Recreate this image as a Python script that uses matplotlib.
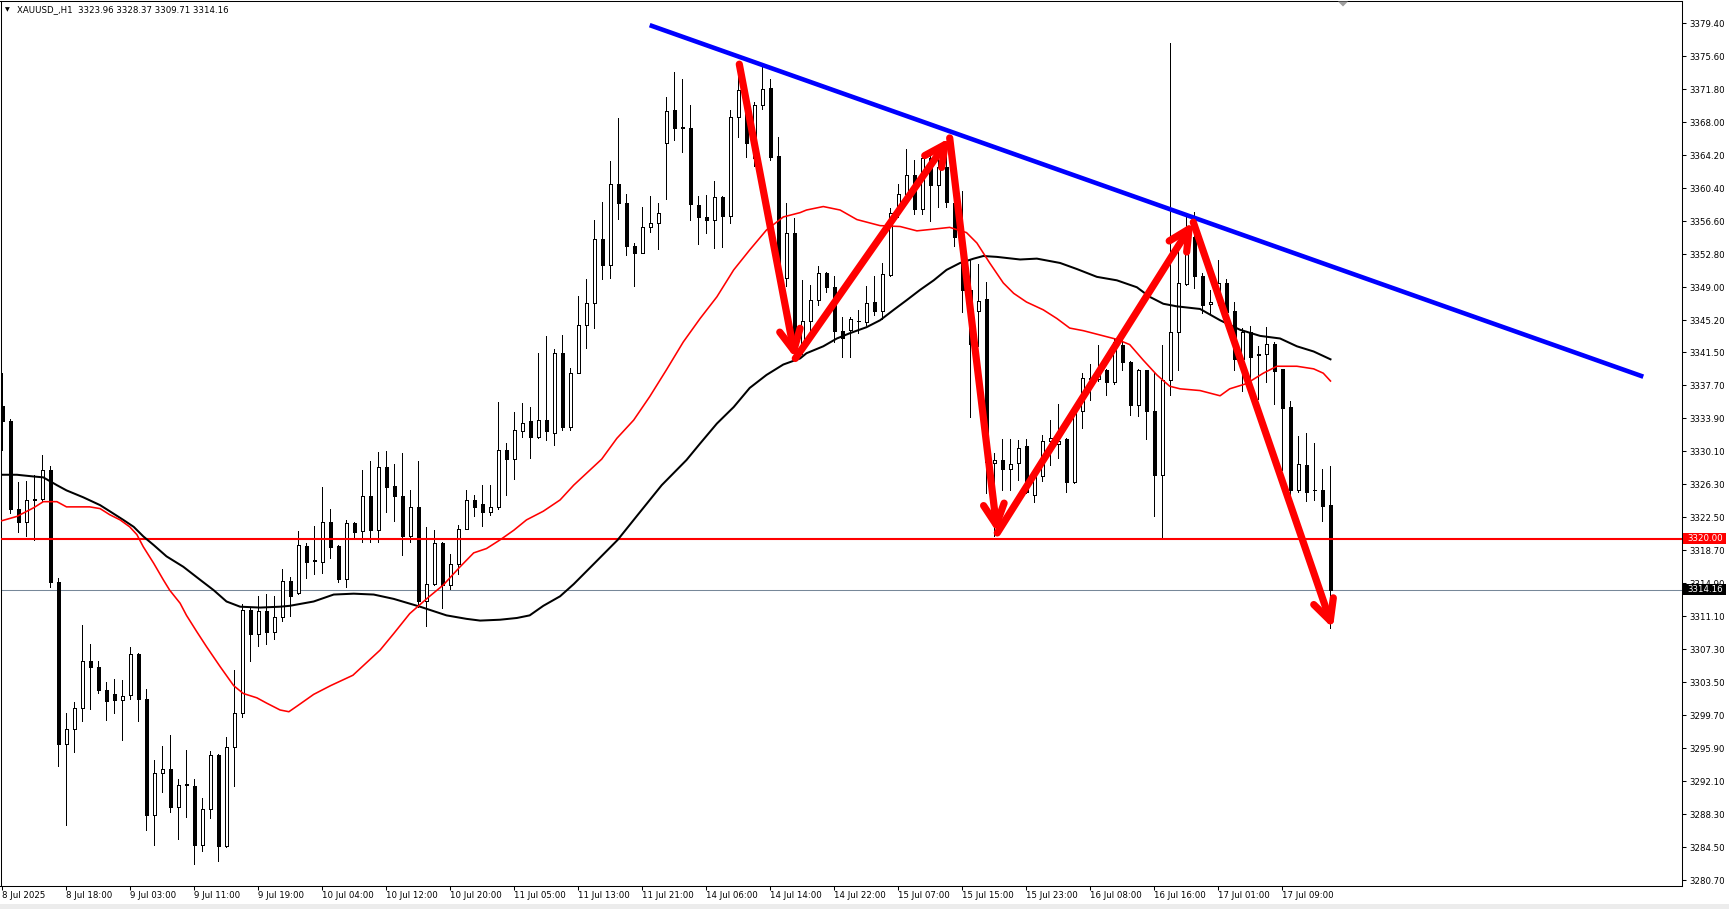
"""
XAUUSD H1 candlestick chart in MT4 style, with two moving averages,
a falling trendline and zigzag arrows.
"""

import numpy as np
import matplotlib
matplotlib.use('Agg')
import matplotlib.pyplot as plt
from matplotlib.patches import Rectangle, Polygon
from matplotlib.transforms import blended_transform_factory

plt.rcParams['font.family'] = 'DejaVu Sans'
plt.rcParams['font.size'] = 6.2
plt.rcParams['axes.linewidth'] = 0.72
plt.rcParams['xtick.color'] = '#000000'
plt.rcParams['ytick.color'] = '#000000'

W, H, DPI = 1729, 909, 100

# ---------------- data ----------------
symbol_header = 'XAUUSD_,H1  3323.96 3328.37 3309.71 3314.16'

opens = [
    3335.3, 3333.6, 3323.5, 3321.9, 3324.5, 3324.6, 3328.0, 3315.0, 3296.4, 3298.1,
    3300.5, 3306.0, 3305.2, 3302.6, 3302.1, 3301.4, 3302.0, 3306.7, 3301.6, 3288.2,
    3293.0, 3293.5, 3289.1, 3291.7, 3291.6, 3284.8, 3288.9, 3295.1, 3284.6, 3296.0,
    3299.9, 3311.8, 3309.1, 3311.7, 3309.3, 3311.0, 3315.2, 3313.8, 3319.2, 3317.5,
    3317.3, 3322.0, 3319.2, 3315.4, 3321.8, 3320.9, 3324.9, 3321.0, 3328.3, 3326.1,
    3325.0, 3320.3, 3323.7, 3312.8, 3314.8, 3319.5, 3314.7, 3317.1, 3321.2, 3324.5,
    3324.0, 3323.1, 3323.7, 3330.3, 3329.2, 3332.4, 3333.6, 3331.7, 3333.7, 3332.2,
    3341.4, 3332.9, 3339.1, 3344.7, 3347.2, 3354.6, 3351.6, 3360.9, 3358.7, 3353.8,
    3353.0, 3355.9, 3356.4, 3365.6, 3369.4, 3367.4, 3367.4, 3358.5, 3357.1, 3356.8,
    3359.4, 3357.2, 3368.6, 3370.0, 3363.9, 3370.0, 3372.0, 3364.1, 3350.1, 3355.2,
    3342.2, 3345.1, 3347.5, 3350.7, 3349.0, 3344.0, 3344.1, 3345.1, 3345.0, 3347.3,
    3346.3, 3350.4, 3357.6, 3359.7, 3361.9, 3358.0, 3363.9, 3360.8, 3362.9, 3358.7,
    3354.8, 3348.7, 3346.3, 3347.6, 3328.8, 3329.1, 3328.1, 3328.7, 3330.7, 3325.1,
    3327.2, 3331.3, 3330.9, 3331.5, 3326.6, 3334.7, 3338.5, 3338.4, 3339.5, 3338.1,
    3342.3, 3340.4, 3335.4, 3339.5, 3334.7, 3327.4, 3338.3, 3343.8, 3349.4, 3354.8,
    3350.3, 3347.1, 3348.3, 3349.5, 3346.3, 3340.7, 3343.8, 3341.2, 3341.3, 3342.5,
    3339.6, 3335.2, 3325.7, 3328.5, 3325.6, 3325.6, 3323.96,
]
highs = [
    3339.1, 3333.8, 3326.6, 3326.7, 3327.4, 3329.7, 3328.4, 3315.5, 3299.9, 3301.2,
    3310.1, 3307.9, 3305.9, 3303.5, 3303.9, 3303.8, 3307.6, 3306.9, 3302.7, 3294.5,
    3296.2, 3297.4, 3292.4, 3295.7, 3292.4, 3290.2, 3295.6, 3295.2, 3297.2, 3304.9,
    3312.5, 3312.2, 3313.4, 3313.7, 3313.4, 3316.6, 3315.6, 3320.9, 3319.5, 3321.5,
    3326.0, 3323.5, 3319.3, 3322.2, 3321.9, 3328.0, 3329.0, 3330.0, 3330.1, 3328.6,
    3329.9, 3325.7, 3329.0, 3321.4, 3321.0, 3319.7, 3318.3, 3321.6, 3325.6, 3325.1,
    3326.2, 3326.2, 3335.8, 3331.1, 3334.6, 3335.7, 3335.2, 3341.4, 3343.4, 3341.9,
    3343.5, 3339.7, 3348.0, 3350.0, 3356.8, 3358.8, 3363.5, 3368.5, 3359.7, 3354.1,
    3358.3, 3359.5, 3358.7, 3370.9, 3373.8, 3373.0, 3370.0, 3359.5, 3359.6, 3361.2,
    3359.5, 3369.4, 3374.7, 3372.0, 3370.3, 3374.4, 3373.0, 3366.3, 3358.7, 3357.0,
    3349.8, 3349.3, 3351.4, 3350.8, 3350.3, 3345.6, 3345.6, 3346.4, 3349.1, 3350.3,
    3351.8, 3358.1, 3360.9, 3364.9, 3363.7, 3364.4, 3364.6, 3363.9, 3365.5, 3359.2,
    3360.1, 3352.1, 3351.7, 3349.6, 3329.9, 3331.5, 3331.5, 3331.4, 3331.5, 3327.8,
    3332.0, 3333.7, 3335.6, 3331.6, 3334.8, 3339.1, 3340.2, 3342.4, 3339.6, 3343.1,
    3343.3, 3340.5, 3339.6, 3339.5, 3339.1, 3342.4, 3377.1, 3353.7, 3357.1, 3357.7,
    3350.6, 3348.7, 3352.1, 3350.0, 3347.3, 3344.3, 3344.5, 3342.2, 3344.4, 3342.7,
    3339.6, 3335.9, 3331.9, 3332.2, 3331.1, 3328.1, 3328.37,
]
lows = [
    3330.2, 3323.0, 3320.8, 3320.4, 3319.9, 3324.4, 3314.5, 3293.8, 3287.0, 3295.5,
    3299.0, 3300.4, 3302.2, 3299.1, 3300.0, 3296.8, 3301.6, 3299.0, 3286.5, 3284.7,
    3290.8, 3288.6, 3285.4, 3288.0, 3282.6, 3284.0, 3287.8, 3282.9, 3284.5, 3291.6,
    3299.5, 3306.0, 3307.7, 3307.9, 3308.5, 3310.6, 3311.1, 3313.7, 3315.5, 3316.0,
    3316.1, 3317.8, 3315.1, 3314.5, 3320.2, 3319.7, 3319.7, 3319.7, 3323.1, 3322.1,
    3318.1, 3319.6, 3312.2, 3310.0, 3314.7, 3312.0, 3314.2, 3316.0, 3321.1, 3322.7,
    3321.5, 3322.8, 3323.4, 3325.1, 3326.9, 3331.8, 3329.3, 3331.6, 3331.4, 3330.8,
    3332.6, 3332.6, 3339.1, 3342.0, 3344.3, 3349.9, 3350.1, 3356.9, 3352.7, 3349.1,
    3352.9, 3355.4, 3353.4, 3359.2, 3366.0, 3364.6, 3356.8, 3354.0, 3355.2, 3353.5,
    3353.6, 3356.4, 3366.3, 3364.0, 3363.0, 3369.5, 3363.7, 3349.3, 3349.1, 3341.5,
    3341.3, 3343.7, 3347.0, 3348.5, 3342.7, 3341.0, 3341.0, 3343.7, 3344.7, 3345.8,
    3345.3, 3350.3, 3357.1, 3359.4, 3357.4, 3357.4, 3356.6, 3358.3, 3358.2, 3353.8,
    3346.2, 3334.1, 3342.2, 3325.3, 3320.3, 3325.6, 3325.6, 3326.8, 3325.3, 3324.3,
    3326.7, 3328.5, 3329.3, 3325.4, 3326.4, 3332.8, 3336.0, 3338.2, 3336.6, 3337.9,
    3339.5, 3334.3, 3334.2, 3331.5, 3322.6, 3320.1, 3336.6, 3339.5, 3349.3, 3348.9,
    3346.0, 3346.0, 3347.0, 3345.5, 3339.5, 3337.0, 3337.4, 3336.1, 3338.1, 3335.6,
    3328.0, 3325.1, 3325.4, 3324.4, 3324.5, 3322.1, 3309.71,
]
closes = [
    3333.6, 3323.5, 3321.9, 3324.5, 3324.6, 3328.0, 3315.0, 3296.4, 3298.1, 3300.5,
    3306.0, 3305.2, 3302.6, 3301.3, 3301.4, 3301.9, 3306.7, 3301.6, 3288.2, 3293.0,
    3293.5, 3289.1, 3291.7, 3291.7, 3284.8, 3288.9, 3295.1, 3284.6, 3296.0, 3299.9,
    3311.8, 3309.1, 3311.7, 3309.3, 3311.0, 3315.2, 3313.4, 3319.3, 3317.3, 3317.5,
    3322.0, 3319.1, 3315.4, 3321.8, 3320.8, 3324.9, 3321.0, 3328.3, 3326.0, 3324.9,
    3320.3, 3323.7, 3312.8, 3314.8, 3319.5, 3314.7, 3317.1, 3321.2, 3324.5, 3323.7,
    3323.1, 3323.7, 3330.3, 3329.2, 3332.6, 3333.4, 3331.8, 3333.7, 3332.4, 3341.4,
    3332.9, 3339.1, 3344.7, 3347.2, 3354.6, 3351.6, 3360.9, 3358.7, 3353.8, 3353.0,
    3355.9, 3356.4, 3357.5, 3369.3, 3367.4, 3367.4, 3358.6, 3357.1, 3356.8, 3359.4,
    3357.2, 3368.6, 3371.7, 3365.6, 3370.0, 3371.8, 3364.0, 3350.0, 3355.3, 3343.5,
    3345.1, 3347.5, 3350.7, 3349.0, 3344.0, 3343.2, 3345.4, 3345.1, 3347.2, 3346.3,
    3350.5, 3357.6, 3359.7, 3361.9, 3358.0, 3363.9, 3360.8, 3362.9, 3358.8, 3354.8,
    3348.7, 3342.5, 3347.4, 3328.9, 3329.1, 3328.1, 3328.6, 3330.5, 3325.4, 3327.2,
    3331.3, 3331.6, 3331.3, 3326.6, 3334.7, 3338.5, 3338.4, 3339.5, 3338.1, 3342.7,
    3340.4, 3335.4, 3339.5, 3334.7, 3327.4, 3338.3, 3343.9, 3349.5, 3354.4, 3350.3,
    3347.0, 3347.3, 3349.5, 3346.2, 3340.7, 3343.8, 3341.0, 3341.2, 3342.5, 3339.4,
    3335.1, 3325.7, 3328.6, 3325.4, 3325.6, 3323.8, 3314.16,
]

# fast MA (red): bar position / price
red_ma_bar = [
    -0.1, 1.8, 3.9, 5.1, 6.8, 8.0, 9.3, 10.9, 12.2, 13.4,
    14.7, 15.9, 16.8, 17.6, 18.9, 20.1, 20.9, 22.2, 23.0, 24.3,
    25.5, 27.2, 28.9, 30.1, 31.8, 33.0, 34.7, 35.8, 36.9, 38.9,
    41.0, 43.8, 47.2, 48.9, 50.9, 53.0, 55.1, 57.2, 58.9, 60.5,
    62.2, 63.9, 65.5, 67.6, 69.7, 71.4, 74.9, 76.8, 78.9, 80.9,
    83.0, 85.1, 87.2, 89.3, 91.4, 93.4, 95.5, 97.6, 99.7, 100.5,
    102.6, 104.7, 106.8, 109.7, 112.2, 114.3, 116.4, 118.4, 120.5, 121.8,
    123.4, 125.1, 126.4, 128.0, 130.1, 131.8, 133.4, 135.1, 137.2, 139.3,
    140.9, 142.6, 144.3, 145.9, 147.2, 149.7, 152.2, 153.4, 155.5, 157.6,
    159.3, 161.8, 163.9, 165.1, 166.0,
]
red_ma_val = [
    3322.1, 3322.6, 3323.6, 3324.3, 3324.3, 3323.7, 3323.7, 3323.7, 3323.5, 3322.8,
    3322.2, 3321.4, 3320.5, 3319.1, 3317.2, 3315.3, 3314.1, 3312.6, 3311.2, 3309.3,
    3307.6, 3305.3, 3303.1, 3302.2, 3301.7, 3301.1, 3300.3, 3300.1, 3300.8, 3302.1,
    3303.1, 3304.3, 3307.2, 3309.1, 3311.4, 3313.1, 3314.7, 3316.8, 3318.4, 3318.9,
    3319.9, 3321.0, 3322.2, 3323.2, 3324.5, 3326.2, 3329.2, 3331.6, 3333.7, 3336.4,
    3339.5, 3342.7, 3345.4, 3347.9, 3351.0, 3353.3, 3355.6, 3357.1, 3357.6, 3357.9,
    3358.3, 3357.9, 3356.8, 3356.1, 3356.0, 3355.5, 3355.7, 3355.9, 3355.3, 3354.1,
    3351.8, 3349.5, 3348.3, 3347.3, 3346.4, 3345.4, 3344.3, 3344.0, 3343.5, 3343.0,
    3342.4, 3340.6, 3338.9, 3337.6, 3337.3, 3337.1, 3336.5, 3337.3, 3337.9, 3339.1,
    3339.9, 3339.9, 3339.6, 3339.1, 3338.2,
]

# slow MA (black)
black_ma_bar = [
    -0.1, 1.8, 3.9, 5.1, 6.8, 8.0, 10.1, 12.2, 13.4, 15.1,
    16.4, 17.6, 18.9, 20.5, 22.6, 24.7, 26.4, 28.0, 29.7, 32.2,
    34.7, 35.9, 38.9, 41.4, 43.9, 46.4, 48.9, 52.2, 55.5, 58.0,
    59.7, 62.2, 64.3, 65.9, 67.6, 69.7, 71.4, 74.1, 76.9, 79.6,
    82.4, 85.5, 87.2, 89.3, 91.4, 93.4, 95.5, 97.6, 99.7, 100.5,
    102.6, 104.3, 105.9, 108.0, 109.7, 111.4, 113.0, 114.7, 116.4, 118.0,
    119.7, 121.4, 122.6, 124.3, 127.2, 129.3, 132.2, 134.3, 136.8, 139.3,
    141.8, 143.4, 145.1, 146.8, 149.7, 152.2, 154.7, 157.2, 159.7, 161.8,
    163.9, 166.0,
]
black_ma_val = [
    3327.4, 3327.4, 3327.2, 3327.1, 3326.2, 3325.6, 3324.8, 3323.9, 3323.2, 3322.2,
    3321.4, 3320.3, 3319.3, 3318.0, 3316.8, 3315.3, 3314.1, 3312.8, 3312.2, 3312.1,
    3312.2, 3312.3, 3312.8, 3313.6, 3313.7, 3313.6, 3313.1, 3312.2, 3311.2, 3310.8,
    3310.6, 3310.7, 3310.9, 3311.2, 3312.3, 3313.4, 3314.8, 3317.3, 3319.9, 3323.0,
    3326.2, 3329.1, 3331.0, 3333.3, 3335.2, 3337.4, 3338.9, 3340.1, 3340.8, 3341.4,
    3342.2, 3343.1, 3343.7, 3344.4, 3345.2, 3346.4, 3347.5, 3348.7, 3349.8, 3351.0,
    3351.8, 3352.3, 3352.6, 3352.5, 3352.2, 3352.3, 3351.8, 3351.1, 3350.2, 3349.8,
    3349.0, 3347.9, 3347.1, 3346.8, 3346.5, 3345.2, 3344.1, 3343.4, 3343.1, 3342.2,
    3341.6, 3340.7,
]

# hand drawn objects
trend_bar = [80.9, 205.1]
trend_price = [3379.2, 3338.7]
zigzag_bar = [92.1, 99.1, 118.4, 124.35, 148.85, 166.3]
zigzag_price = [3374.7, 3340.8, 3366.2, 3320.7, 3356.5, 3309.7]
alert_level = 3320.00

# axis ticks
xtick_bars = list(range(0, 161, 8))
xtick_labels = ['8 Jul 2025', '8 Jul 18:00', '9 Jul 03:00', '9 Jul 11:00', '9 Jul 19:00',
                '10 Jul 04:00', '10 Jul 12:00', '10 Jul 20:00', '11 Jul 05:00', '11 Jul 13:00',
                '11 Jul 21:00', '14 Jul 06:00', '14 Jul 14:00', '14 Jul 22:00', '15 Jul 07:00',
                '15 Jul 15:00', '15 Jul 23:00', '16 Jul 08:00', '16 Jul 16:00', '17 Jul 01:00',
                '17 Jul 09:00']
ytick_values = [3379.40, 3375.60, 3371.80, 3368.00, 3364.20, 3360.40, 3356.60, 3352.80,
                3349.00, 3345.20, 3341.50, 3337.70, 3333.90, 3330.10, 3326.30, 3322.50,
                3318.70, 3314.90, 3311.10, 3307.30, 3303.50, 3299.70, 3295.90, 3292.10,
                3288.30, 3284.50, 3280.70]
ytick_labels = ['%.2f' % v for v in ytick_values]

# view window (bars / price)
x_range = (-0.25, 209.94)
y_range = (3280.08, 3381.98)


def px(x, y):
    """Pixel position (from top-left) to figure fraction."""
    return x / W, 1 - y / H


def draw_candles(ax):
    o = np.array(opens)
    h = np.array(highs)
    l = np.array(lows)
    c = np.array(closes)
    idx = np.arange(len(o))
    assert len(o) == len(h) == len(l) == len(c)

    ax.vlines(idx, l, h, color='black', linewidth=0.68, zorder=2, antialiased=False)

    up = c >= o
    lo = np.minimum(o, c)
    hgt = np.maximum(np.abs(c - o), 0.06)
    ax.bar(idx[up], hgt[up], bottom=lo[up], width=0.48, color='white',
           edgecolor='black', linewidth=0.68, zorder=3, antialiased=False)
    ax.bar(idx[~up], hgt[~up], bottom=lo[~up], width=0.48, color='black',
           edgecolor='black', linewidth=0.68, zorder=3, antialiased=False)


def draw_chart():
    fig = plt.figure(figsize=(W / DPI, H / DPI), dpi=DPI, facecolor='white')
    left, top = px(0.5, 1)
    right, bottom = px(1682, 885.5)
    ax = fig.add_axes([left, bottom, right - left, top - bottom])
    ax.set_facecolor('white')
    ax.set_xlim(*x_range)
    ax.set_ylim(*y_range)

    for sp in ax.spines.values():
        sp.set_color('black')
        sp.set_linewidth(0.75)

    # horizontal levels
    ax.axhline(closes[-1], color='#778899', linewidth=0.75, zorder=1)

    draw_candles(ax)

    ax.axhline(alert_level, color='#ff0000', linewidth=1.5, zorder=4)

    # moving averages
    ax.plot(black_ma_bar, black_ma_val, color='black', linewidth=1.45, zorder=4)
    ax.plot(red_ma_bar, red_ma_val, color='#ff0000', linewidth=1.15, zorder=4)

    # trendline
    ax.plot(trend_bar, trend_price, color='#0000ff', linewidth=3.3,
            solid_capstyle='butt', zorder=5)

    # zigzag arrows
    for i in range(len(zigzag_bar) - 1):
        ax.annotate('', xy=(zigzag_bar[i + 1], zigzag_price[i + 1]),
                    xytext=(zigzag_bar[i], zigzag_price[i]),
                    arrowprops=dict(arrowstyle='->,head_length=2.4,head_width=1.2',
                                    color='#ff0000', lw=5.2, shrinkA=0, shrinkB=0),
                    zorder=6)

    # y axis on the right
    ax.yaxis.tick_right()
    ax.set_yticks(ytick_values)
    ax.set_yticklabels(ytick_labels)
    ax.tick_params(axis='y', direction='out', length=3, width=0.75, pad=2.5,
                   labelsize=6.2)

    # x axis
    ax.set_xticks(xtick_bars)
    ax.set_xticklabels(xtick_labels, ha='left')
    ax.tick_params(axis='x', direction='out', length=3, width=0.75, pad=1.0,
                   labelsize=6.2)

    # price boxes on the axis
    trans = blended_transform_factory(fig.transFigure, ax.transData)
    box_h = 11 / ((885.5 - 1) / (y_range[1] - y_range[0]))
    for level, text, colour in [(alert_level, '%.2f' % alert_level, '#ff0000'),
                                (closes[-1], '%.2f' % closes[-1], '#000000')]:
        ax.add_patch(Rectangle((1683 / W, level - box_h / 2), 43 / W, box_h,
                               transform=trans, facecolor=colour, edgecolor='none',
                               clip_on=False, zorder=10))
        ax.text(1705 / W, level, text, transform=trans, ha='center', va='center',
                color='white', fontsize=6.2, clip_on=False, zorder=11)

    # header
    fig.text(*px(5, 9.5), '\u25bc', fontsize=4.5, va='center', ha='left', color='black')
    fig.text(*px(17, 9.5), symbol_header, fontsize=6.2, va='center', ha='left',
             color='black')

    # chart shift marker
    fig.patches.append(Polygon([px(1338, 1.5), px(1348, 1.5), px(1343, 6.5)],
                               closed=True, transform=fig.transFigure,
                               facecolor='#a0a0a0', edgecolor='none'))

    # bottom strip of the window
    x0, y0 = px(0, 909)
    fig.patches.append(Rectangle((x0, y0), 1, 5 / H, transform=fig.transFigure,
                                 facecolor='#ececec', edgecolor='none'))
    return fig


if __name__ == "__main__":
    fig = draw_chart()
    fig.savefig('out.png', dpi=DPI, facecolor='white')
